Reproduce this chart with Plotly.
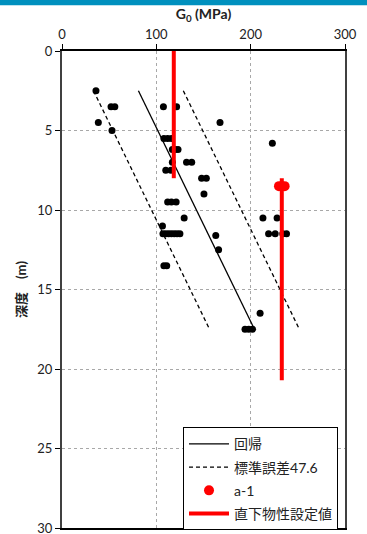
import plotly.graph_objects as go

# Measured points (G0 in MPa, depth in m)
g0_values = [36, 52, 56, 107.5, 121.5, 38.5, 167.5, 53, 108, 112, 116, 223,
             117, 120, 123, 117, 132, 137.5, 110, 115.5, 148, 153, 150.5,
             112, 116, 121, 129.5, 213, 228, 106.5,
             107, 110, 113, 116, 119, 122, 125, 219, 226, 234, 238,
             163, 166, 108, 111, 210, 194, 198, 202]
depth_values = [2.5, 3.5, 3.5, 3.5, 3.5, 4.5, 4.5, 5.0, 5.5, 5.5, 5.5, 5.8,
                6.2, 6.2, 6.2, 7.0, 7.0, 7.0, 7.5, 7.5, 8.0, 8.0, 9.0,
                9.5, 9.5, 9.5, 10.5, 10.5, 10.5, 11.0,
                11.5, 11.5, 11.5, 11.5, 11.5, 11.5, 11.5, 11.5, 11.5, 11.5, 11.5,
                11.6, 12.5, 13.5, 13.5, 16.5, 17.5, 17.5, 17.5]

# Regression line and standard-error band (47.6)
reg_g0 = [81, 204]
reg_depth = [2.5, 17.5]
se_g0 = [33.4, 156.4, None, 128.6, 251.6]
se_depth = [2.5, 17.5, None, 2.5, 17.5]

# a-1 sample
a1_g0 = [230, 233, 236]
a1_depth = [8.5, 8.5, 8.5]

# Design values directly below
design_g0 = [118.5, 118.5, None, 233, 233]
design_depth = [0, 8.0, None, 8.0, 20.7]

x_ticks = [0, 100, 200, 300]
y_ticks = [0, 5, 10, 15, 20, 25, 30]

FONT = "Lato, Noto Sans CJK JP, sans-serif"

fig = go.Figure()
fig.add_trace(go.Scatter(x=g0_values, y=depth_values, mode="markers",
                         marker=dict(color="black", size=7),
                         showlegend=False, hoverinfo="x+y"))
fig.add_trace(go.Scatter(x=reg_g0, y=reg_depth, mode="lines", name="回帰",
                         line=dict(color="black", width=1.3),
                         legendgroup="g1"))
fig.add_trace(go.Scatter(x=se_g0, y=se_depth, mode="lines", name="標準誤差47.6",
                         line=dict(color="black", width=1.3, dash="4px,3px"),
                         legendgroup="g2"))
fig.add_trace(go.Scatter(x=a1_g0, y=a1_depth, mode="markers", name="a-1",
                         marker=dict(color="#FF0000", size=10),
                         legendgroup="g3"))
fig.add_trace(go.Scatter(x=design_g0, y=design_depth, mode="lines", name="直下物性設定値",
                         line=dict(color="#FF0000", width=4),
                         legendgroup="g4"))

fig.update_layout(
    width=367, height=534,
    margin=dict(l=62, r=22, t=51, b=4),
    paper_bgcolor="white", plot_bgcolor="white",
    font=dict(family=FONT, size=13, color="#222222"),
    showlegend=True,
    legend=dict(x=0.4276, y=0.211, xanchor="left", yanchor="top",
                bgcolor="white", bordercolor="black", borderwidth=1,
                font=dict(family=FONT, size=14, color="#222222"),
                itemwidth=40,
                traceorder="grouped", tracegroupgap=2),
    xaxis=dict(range=[0, 300], side="top", tickvals=x_ticks,
               ticks="outside", ticklen=5, tickcolor="black",
               showline=True, linecolor="black", linewidth=1.5, mirror=True,
               showgrid=True, gridcolor="#A8A8A8", griddash="3px,3px", gridwidth=1,
               zeroline=False, automargin=False,
               title=dict(text="<b>G<sub>0</sub> (MPa)</b>", font=dict(size=14, color="#222222"),
                          standoff=3)),
    yaxis=dict(range=[30, 0], tickvals=y_ticks,
               ticks="outside", ticklen=5, tickcolor="black",
               showline=True, linecolor="#404040", linewidth=2, mirror=True,
               showgrid=True, gridcolor="#A8A8A8", griddash="3px,3px", gridwidth=1,
               zeroline=False, ticklabeloverflow="allow", automargin=False,
               title=dict(text="<b>深度　(m)</b>", font=dict(size=13, color="#222222"),
                          standoff=8)),
    shapes=[dict(type="rect", xref="paper", yref="paper",
                 x0=-62 / 283, x1=305 / 283, y0=1 + 46 / 479, y1=1 + 52 / 479,
                 fillcolor="#0090BE", line=dict(width=0), layer="above")],
)

fig.write_html("out.html", config={"displayModeBar": False},
               post_script="document.body.style.margin='0';document.body.style.overflow='hidden';")
